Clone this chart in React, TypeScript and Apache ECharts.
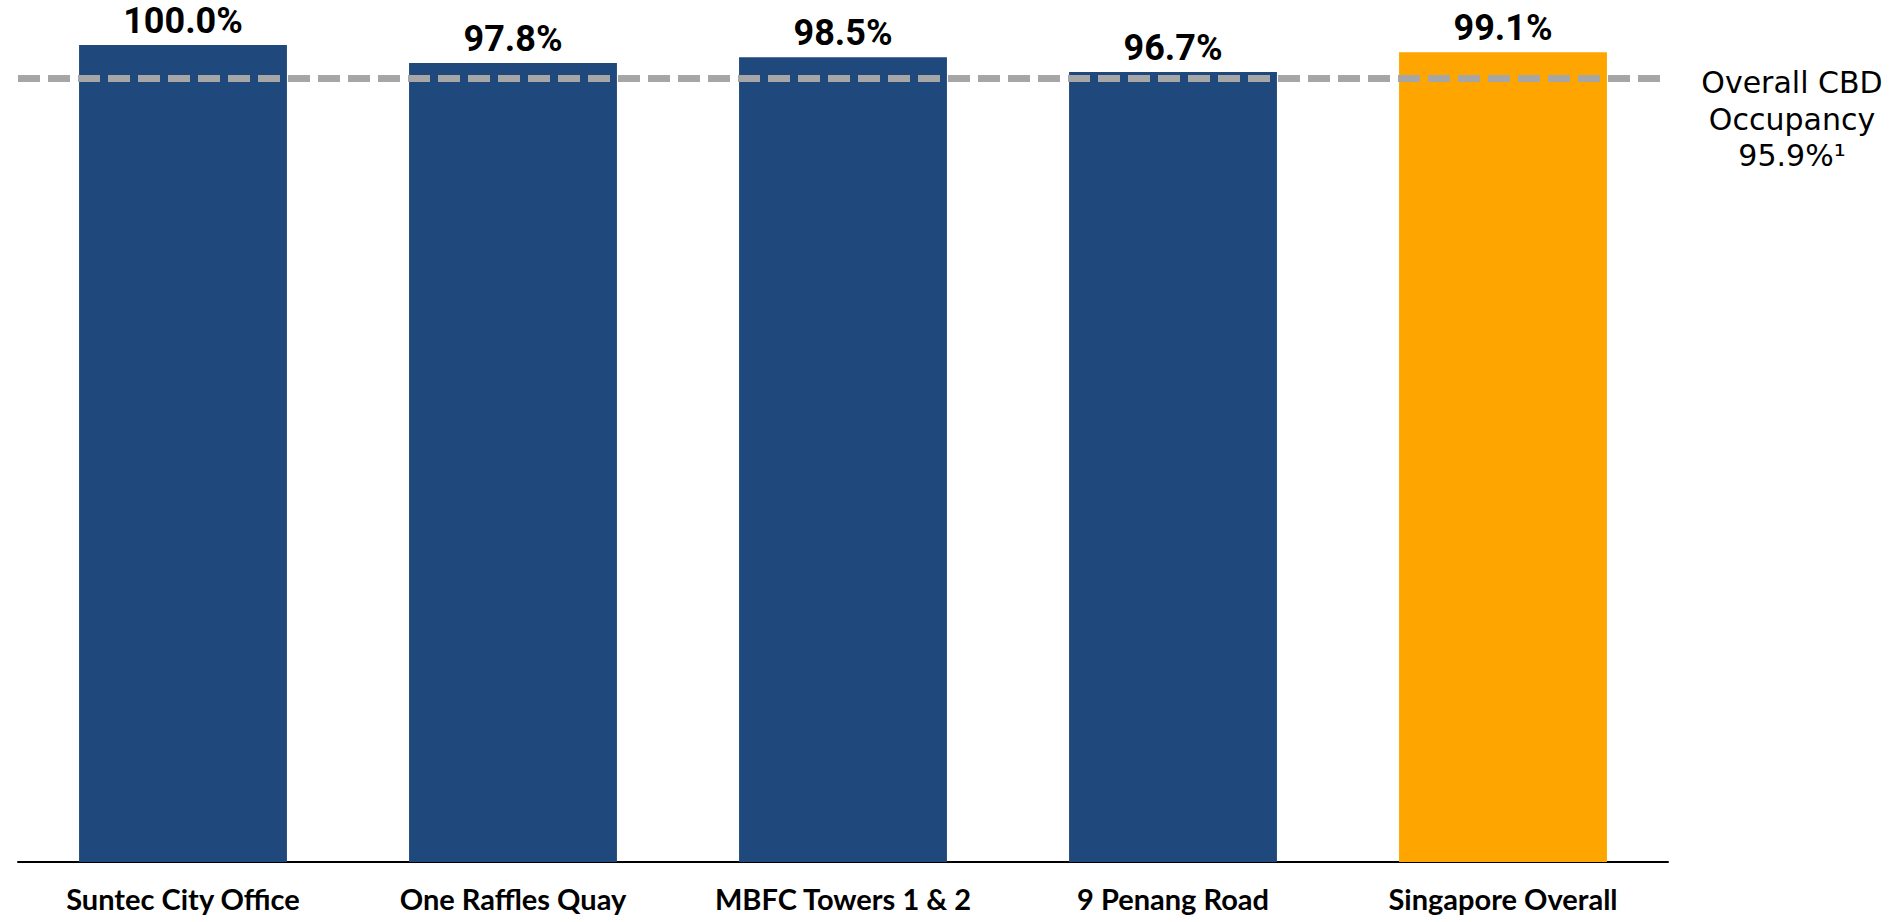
import React, { useEffect, useRef } from "react";
import * as echarts from "echarts";

const categories = [
  "Suntec City Office",
  "One Raffles Quay",
  "MBFC Towers 1 & 2",
  "9 Penang Road",
  "Singapore Overall",
];
const occupancy = [100.0, 97.8, 98.5, 96.7, 99.1];
const barColors = ["#1F497D", "#1F497D", "#1F497D", "#1F497D", "#FFA500"];
const cbdOccupancy = 95.9;
const cbdLabelLines = ["Overall CBD", "Occupancy", "95.9%¹"];

export default function App() {
  const ref = useRef<HTMLDivElement>(null);
  useEffect(() => {
    document.body.style.margin = "0";
    if (!ref.current) return;
    const chart = echarts.init(ref.current, null, { renderer: "svg" });
    chart.setOption({
      animation: false,
      grid: { left: 18, right: 221, top: 45, bottom: 60 },
      xAxis: {
        type: "category",
        data: categories,
        axisLine: { show: true, lineStyle: { color: "#000", width: 2 } },
        axisTick: { show: false },
        axisLabel: {
          interval: 0,
          hideOverlap: false,
          margin: 21,
          fontFamily: "Lato",
          fontWeight: "bold",
          fontSize: 29,
          lineHeight: 30,
          color: "#000",
        },
      },
      yAxis: {
        type: "value",
        min: 0,
        max: 100,
        show: false,
        splitLine: { show: false },
      },
      series: [
        {
          type: "bar",
          barWidth: "63%",
          data: occupancy.map((v, i) => ({
            value: v,
            itemStyle: { color: barColors[i] },
          })),
          label: {
            show: true,
            position: "top",
            distance: 6,
            formatter: (p: any) => p.value.toFixed(1) + "%",
            fontFamily: "Roboto",
            fontWeight: "bold",
            fontSize: 36,
            lineHeight: 36,
            color: "#000",
          },
          markLine: {
            silent: true,
            symbol: "none",
            lineStyle: { color: "#A6A6A6", width: 7, type: [22, 8] },
            label: {
              show: true,
              position: "end",
              distance: 31,
              padding: [82, 0, 0, 0],
              formatter: cbdLabelLines.map((l) => "{a|" + l + "}").join("\n"),
              rich: {
                a: {
                  width: 186,
                  align: "center",
                  fontFamily: "DejaVu Sans",
                  fontSize: 30,
                  lineHeight: 36.5,
                  color: "#000",
                },
              },
            },
            data: [{ yAxis: cbdOccupancy }],
          },
        },
      ],
    });
    return () => chart.dispose();
  }, []);
  return <div ref={ref} style={{ width: 1889, height: 922 }} />;
}
